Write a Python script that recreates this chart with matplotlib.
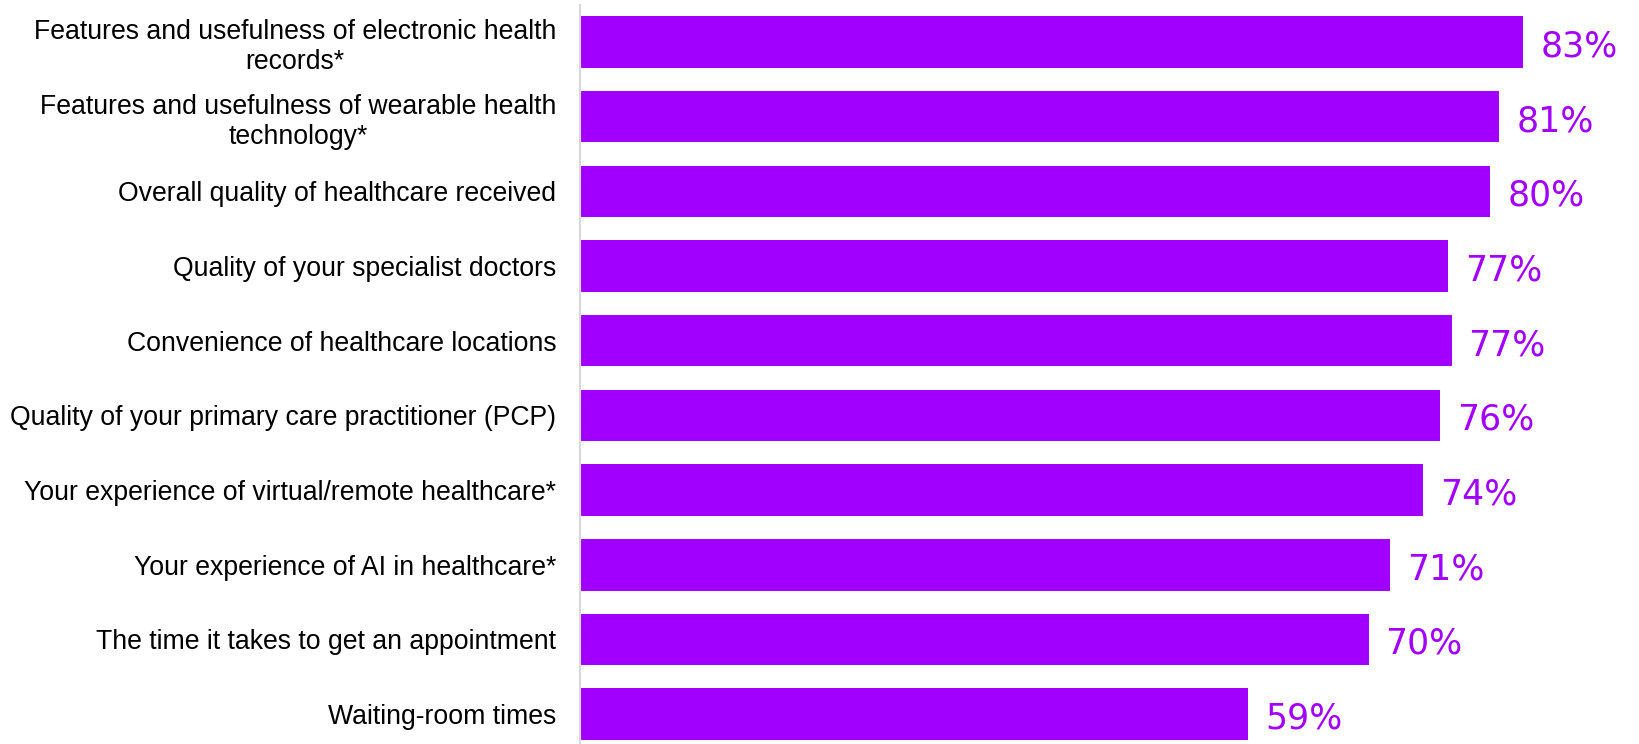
import matplotlib.pyplot as plt

categories = [
    "Features and usefulness of electronic health\nrecords*",
    "Features and usefulness of wearable health\ntechnology*",
    "Overall quality of healthcare received",
    "Quality of your specialist doctors",
    "Convenience of healthcare locations",
    "Quality of your primary care practitioner (PCP)",
    "Your experience of virtual/remote healthcare*",
    "Your experience of AI in healthcare*",
    "The time it takes to get an appointment",
    "Waiting-room times",
]
values = [83.0, 80.9, 80.1, 76.4, 76.7, 75.7, 74.2, 71.3, 69.4, 58.8]
value_labels = ["83%", "81%", "80%", "77%", "77%", "76%", "74%", "71%", "70%", "59%"]

purple = "#A100FF"

fig = plt.figure(figsize=(16.39, 7.44), dpi=100)
ax = fig.add_axes([580 / 1639, 0, 1 - 580 / 1639, 739 / 744])

y = list(range(len(categories)))
ax.barh(y, values, height=0.69, color=purple, edgecolor="none")

# value labels sit a touch below bar centre, like the original
for yi, v, lab in zip(y, values, value_labels):
    ax.text(v + 1.5, yi + 0.06, lab, va="center", ha="left", color=purple,
            fontsize=25, family="DejaVu Sans")

ax.set_yticks(y)
ax.set_yticklabels(categories, fontsize=19.2, family="Liberation Sans",
                   multialignment="center", linespacing=1.22)
ax.tick_params(axis="y", length=0, pad=17)
ax.set_xticks([])
ax.set_ylim(9.4, -0.495)
ax.set_xlim(0, 93.2)

for side in ["top", "right", "bottom"]:
    ax.spines[side].set_visible(False)
ax.spines["left"].set_color("#d9d9d9")
ax.spines["left"].set_linewidth(1.5)

fig.savefig("out.png", dpi=100)
